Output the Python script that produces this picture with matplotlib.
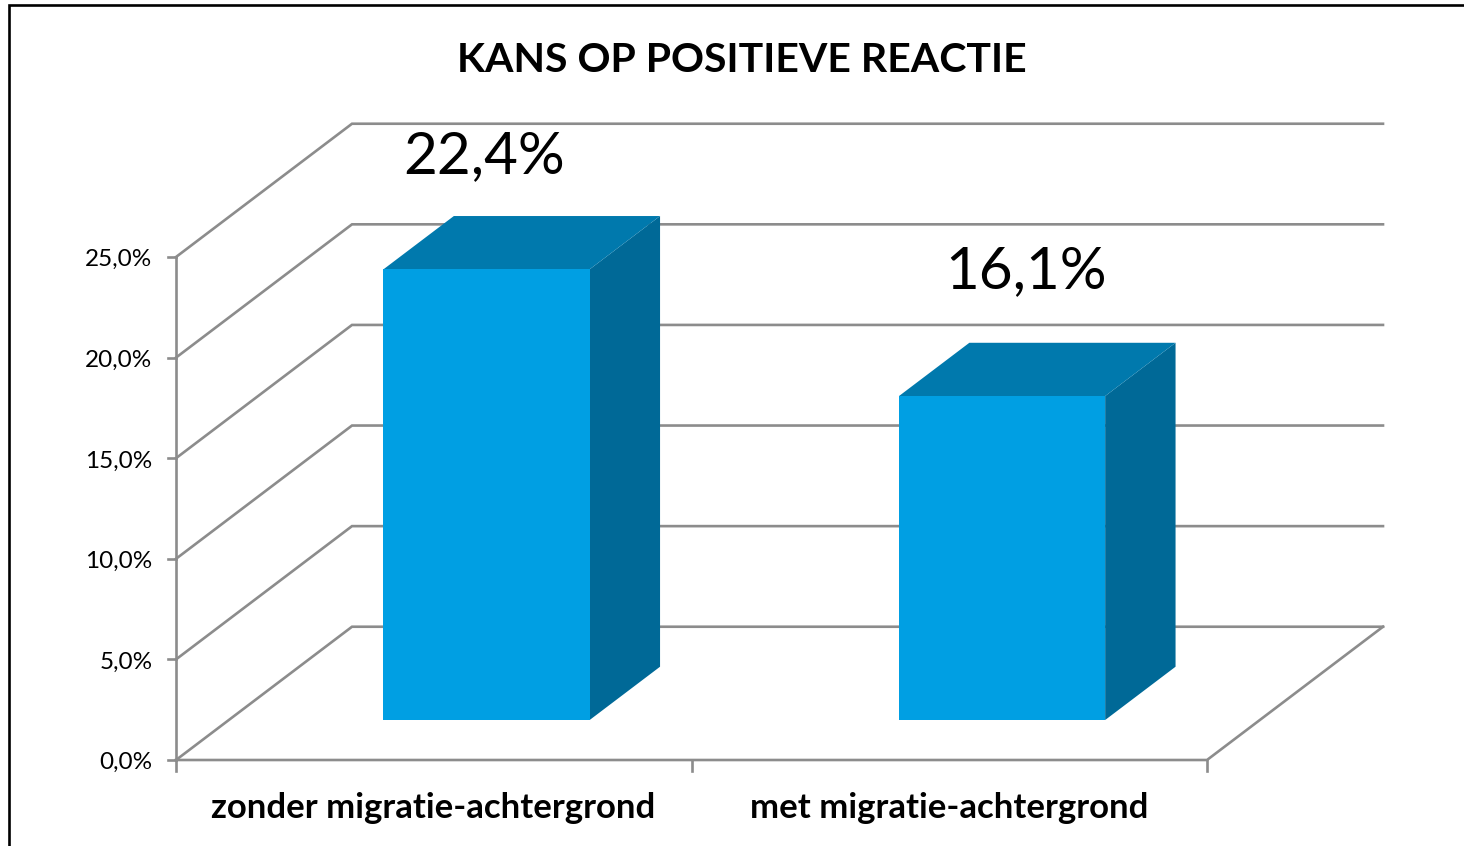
import matplotlib
matplotlib.use("Agg")
import matplotlib.pyplot as plt
from matplotlib.patches import Polygon, Rectangle

categories = ["zonder migratie-achtergrond", "met migratie-achtergrond"]
values = [22.4, 16.1]
value_labels = ["22,4%", "16,1%"]
ticks = [0, 5, 10, 15, 20, 25]
tick_labels = ["0,0%", "5,0%", "10,0%", "15,0%", "20,0%", "25,0%"]
title = "KANS OP POSITIEVE REACTIE"

W, H = 1464, 846
GREY = "#8c8c8c"
FRONT = "#009fe3"
TOP = "#0079ad"
SIDE = "#006997"

# depth of the floor in axis units, and where the bars sit in it
DX = 176 / 515.5
DY = 133 / 20.08
BAR_W = 0.4
BAR_D0 = 0.3
BAR_D1 = 0.7
LW = 1.9

# the value labels were moved by hand in the original, so offsets differ
label_dx = [0.097, 0.149]
label_dy = [7.6, 8.15]

plt.rcParams['font.family'] = ['Lato', 'DejaVu Sans']

fig = plt.figure(figsize=(W / 100, H / 100), dpi=100)
fig.patches.append(Rectangle((8.5 / W, -0.01), (W + 5) / W, 1 - 5.5 / H + 0.01,
                             transform=fig.transFigure, fc="white", ec="black", lw=1.9, zorder=-1))

ax = fig.add_axes([176 / W, 1 - 760 / H, 1031 / W, 503 / H])
ax.set_xlim(0, 2)
ax.set_ylim(0, 25)
ax.axis("off")
ax.patch.set_visible(False)


def proj(x, y, d):
    return (x + DX * d, y + DY * d)


# walls: depth lines on the left, gridlines at the back
for t in ticks:
    ax.plot(*zip(proj(0, t, 0), proj(0, t, 1), proj(2, t, 1)), color=GREY, lw=LW, clip_on=False,
            solid_joinstyle="miter")
    ax.plot([-0.016, 0], [t, t], color=GREY, lw=LW, clip_on=False)
    ax.text(-0.046, t - 0.14, tick_labels[ticks.index(t)], ha="right", va="center", fontsize=17.5,
            color="black", clip_on=False)
ax.plot([0, 0], [0, 25], color=GREY, lw=LW, clip_on=False)

# floor
ax.plot(*zip(proj(0, 0, 0), proj(2, 0, 0), proj(2, 0, 1)), color=GREY, lw=LW, clip_on=False,
        solid_joinstyle="miter")
for x in [0, 1, 2]:
    ax.plot([x, x], [0, -0.55], color=GREY, lw=LW, clip_on=False)

# bars
for i in range(len(values)):
    v = values[i]
    c = i + 0.5
    l, r = c - BAR_W / 2, c + BAR_W / 2
    ax.add_patch(Polygon([proj(r, 0, BAR_D0), proj(r, 0, BAR_D1), proj(r, v, BAR_D1), proj(r, v, BAR_D0)],
                         fc=SIDE, ec="none", clip_on=False, zorder=3))
    ax.add_patch(Polygon([proj(l, v, BAR_D0), proj(r, v, BAR_D0), proj(r, v, BAR_D1), proj(l, v, BAR_D1)],
                         fc=TOP, ec="none", clip_on=False, zorder=3))
    ax.add_patch(Polygon([proj(l, 0, BAR_D0), proj(r, 0, BAR_D0), proj(r, v, BAR_D0), proj(l, v, BAR_D0)],
                         fc=FRONT, ec="none", clip_on=False, zorder=4))
    ax.text(c + label_dx[i], v + label_dy[i], value_labels[i], ha="center", va="center", fontsize=42,
            color="black", clip_on=False, zorder=5)
    ax.text(c - 0.001, -2.4, categories[i], ha="center", va="center", fontsize=25,
            fontweight="bold", color="black", clip_on=False)

fig.text(742 / W, 1 - 60 / H, title, ha="center", va="center", fontsize=29.5, fontweight="bold")

fig.savefig("out.png", dpi=100)
